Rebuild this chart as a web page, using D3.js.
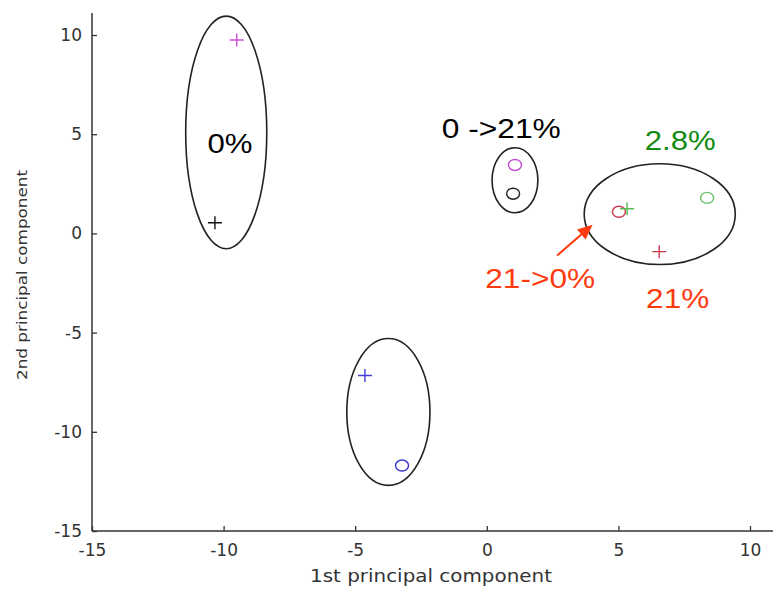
<!DOCTYPE html>
<html>
<head>
<meta charset="utf-8">
<script src="https://cdn.jsdelivr.net/npm/d3@7"></script>
<style>
  html, body { margin: 0; padding: 0; background: #fff; }
  svg { display: block; }
</style>
</head>
<body>
<svg id="chart" width="773" height="589"></svg>
<script>
// Axis ticks
const xTicks = [-15, -10, -5, 0, 5, 10];
const yTicks = [-15, -10, -5, 0, 5, 10];

// Score points: [pc1, pc2]
const plusPoints = [
  { x: -9.5, y: 9.75, color: "#d24fd2" },
  { x: -10.33, y: 0.54, color: "#111111" },
  { x: -4.63, y: -7.16, color: "#4040d0" },
  { x: 5.33, y: 1.24, color: "#55bb55" },
  { x: 6.55, y: -0.92, color: "#c83a4a" }
];
const circlePoints = [
  { x: 1.07, y: 3.45, color: "#c050d0" },
  { x: 1.0, y: 2.0, color: "#222222" },
  { x: -3.22, y: -11.7, color: "#3535c8" },
  { x: 5.02, y: 1.09, color: "#c83a4a" },
  { x: 8.37, y: 1.79, color: "#66c066" }
];

// Cluster ellipses: centre and semi-axes in component units
const clusters = [
  { cx: -9.9, cy: 5.09, rx: 1.54, ry: 5.86 },
  { cx: 1.07, cy: 2.68, rx: 0.87, ry: 1.64 },
  { cx: 6.57, cy: 0.97, rx: 2.87, ry: 2.54 },
  { cx: -3.74, cy: -9.0, rx: 1.58, ry: 3.70 }
];

// Cluster annotations
const notes = [
  { text: "0%", x: -9.76, y: 4.06, color: "#000000", len: 45 },
  { text: "0 ->21%", x: 0.55, y: 4.8, color: "#000000", len: 119 },
  { text: "2.8%", x: 7.35, y: 4.18, color: "#138a13", len: 71 },
  { text: "21->0%", x: 2.03, y: -2.73, color: "#ff3a0f", len: 110 },
  { text: "21%", x: 7.25, y: -3.74, color: "#ff3a0f", len: 63 }
];

// Arrow pointing at the shifted sample
const arrow = { x1: 2.67, y1: -1.12, x2: 4.02, y2: 0.44, color: "#ff3a0f" };

const svg = d3.select("#chart");

const x = d3.scaleLinear().domain([-15, 10.9]).range([92, 773.7]);
const y = d3.scaleLinear().domain([-15, 10]).range([531, 35]);
const yTop = 13;

const tickFont = "'DejaVu Sans', Arial, sans-serif";

// Axes (ticks point inward); plain hyphen for negative labels
const xAxis = d3.axisBottom(x).tickValues(xTicks).tickSize(-5).tickPadding(11).tickFormat(d => String(d));
const yAxis = d3.axisLeft(y).tickValues(yTicks).tickSize(-5).tickPadding(10).tickFormat(d => String(d));

const gx = svg.append("g").attr("transform", `translate(0,${y(-15)})`).call(xAxis);
const gy = svg.append("g").attr("transform", `translate(${x(-15)},0)`).call(yAxis);

[gx, gy].forEach(g => {
  g.select(".domain").remove();
  g.selectAll(".tick line").attr("stroke", "#333").attr("stroke-width", 1.3);
  g.selectAll(".tick text")
    .attr("fill", "#333")
    .style("font-family", tickFont)
    .style("font-size", "17px");
});
gx.selectAll(".tick text").attr("dy", "0.85em");

// Axis lines (left and bottom only)
svg.append("line")
  .attr("x1", x(-15)).attr("x2", x(10.9))
  .attr("y1", y(-15)).attr("y2", y(-15))
  .attr("stroke", "#333").attr("stroke-width", 1.5);
svg.append("line")
  .attr("x1", x(-15)).attr("x2", x(-15))
  .attr("y1", y(-15)).attr("y2", yTop)
  .attr("stroke", "#333").attr("stroke-width", 1.5);

// Axis titles
svg.append("text")
  .attr("x", 431).attr("y", 582)
  .attr("text-anchor", "middle")
  .attr("textLength", 242).attr("lengthAdjust", "spacingAndGlyphs")
  .style("font-family", tickFont).style("font-size", "17px")
  .attr("fill", "#333")
  .text("1st principal component");

svg.append("text")
  .attr("transform", "translate(27,275) rotate(-90)")
  .attr("text-anchor", "middle")
  .attr("textLength", 210).attr("lengthAdjust", "spacingAndGlyphs")
  .style("font-family", tickFont).style("font-size", "14px")
  .attr("fill", "#333")
  .text("2nd principal component");

// Cluster ellipses
svg.append("g").selectAll("ellipse")
  .data(clusters)
  .join("ellipse")
  .attr("cx", d => x(d.cx))
  .attr("cy", d => y(d.cy))
  .attr("rx", d => x(d.cx + d.rx) - x(d.cx))
  .attr("ry", d => y(d.cy - d.ry) - y(d.cy))
  .attr("fill", "none")
  .attr("stroke", "#222")
  .attr("stroke-width", 1.6);

// Circle markers
svg.append("g").selectAll("ellipse")
  .data(circlePoints)
  .join("ellipse")
  .attr("cx", d => x(d.x))
  .attr("cy", d => y(d.y))
  .attr("rx", 6.5)
  .attr("ry", 5.5)
  .attr("fill", "none")
  .attr("stroke", d => d.color)
  .attr("stroke-width", 1.4);

// Plus markers
svg.append("g").selectAll("path")
  .data(plusPoints)
  .join("path")
  .attr("d", d => {
    const px = x(d.x), py = y(d.y), h = 7, v = 6.5;
    return `M${px - h},${py}H${px + h}M${px},${py - v}V${py + v}`;
  })
  .attr("fill", "none")
  .attr("stroke", d => d.color)
  .attr("stroke-width", 1.4);

// Annotation arrow
const ax1 = x(arrow.x1), ay1 = y(arrow.y1), ax2 = x(arrow.x2), ay2 = y(arrow.y2);
const ang = Math.atan2(ay2 - ay1, ax2 - ax1);
const headLen = 15, headW = 6.5;
const bx = ax2 - headLen * Math.cos(ang), by = ay2 - headLen * Math.sin(ang);
svg.append("line")
  .attr("x1", ax1).attr("y1", ay1).attr("x2", bx).attr("y2", by)
  .attr("stroke", arrow.color).attr("stroke-width", 2);
svg.append("path")
  .attr("d", `M${ax2},${ay2}L${bx + headW * Math.sin(ang)},${by - headW * Math.cos(ang)}L${bx - headW * Math.sin(ang)},${by + headW * Math.cos(ang)}Z`)
  .attr("fill", arrow.color);

// Annotation texts
svg.append("g").selectAll("text")
  .data(notes)
  .join("text")
  .attr("x", d => x(d.x))
  .attr("y", d => y(d.y))
  .attr("text-anchor", "middle")
  .attr("textLength", d => d.len)
  .attr("lengthAdjust", "spacingAndGlyphs")
  .style("font-family", "'Liberation Sans', Arial, sans-serif")
  .style("font-size", "27px")
  .attr("fill", d => d.color)
  .text(d => d.text);
</script>
</body>
</html>
